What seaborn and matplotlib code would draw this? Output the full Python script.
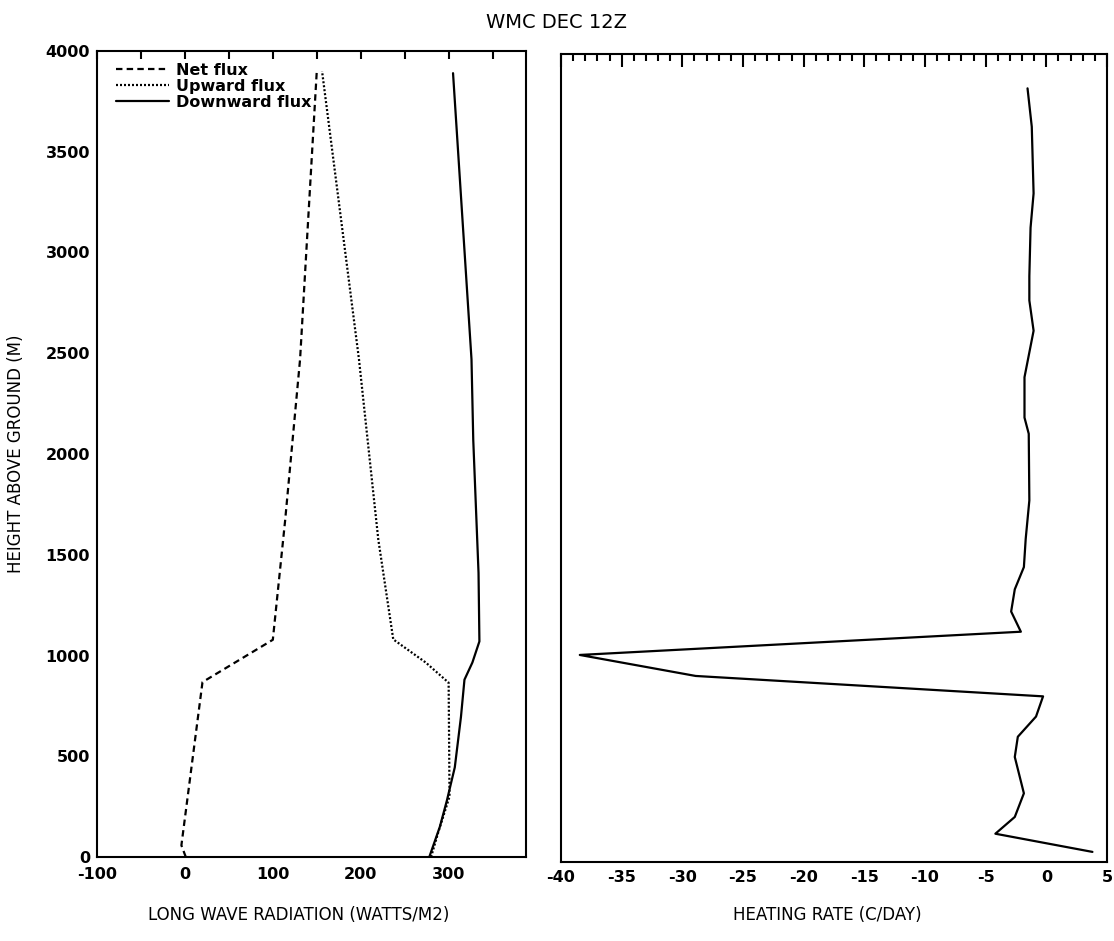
import matplotlib
matplotlib.use("Agg")
import matplotlib.pyplot as plt
import seaborn as sns
import pandas as pd
from matplotlib.ticker import MultipleLocator

# ---- data ----
net_height = [0, 58, 868, 1078, 1670, 2470, 3900]
net_flux = [1, -4, 20, 100, 114, 131, 150]

up_height = [0, 120, 300, 865, 965, 1080, 1575, 2470, 3900]
up_flux = [280, 288, 301, 300, 274, 237, 220, 198, 156]

down_height = [0, 150, 280, 445, 695, 880, 965, 1070, 1410, 2070, 2470, 3890]
down_flux = [278, 290, 298, 307, 314, 318, 327, 335, 334, 328, 326, 305]

heat_height = [50, 140, 223, 340, 520, 620, 720, 820, 921, 1025, 1140, 1240,
               1350, 1460, 1600, 1790, 2120, 2200, 2400, 2630, 2780, 2900,
               3140, 3310, 3640, 3830]
heat_rate = [3.8, -4.2, -2.6, -1.85, -2.6, -2.35, -0.85, -0.27, -28.9, -38.45,
             -2.1, -2.9, -2.6, -1.85, -1.7, -1.4, -1.45, -1.8, -1.8, -1.05,
             -1.4, -1.4, -1.3, -1.05, -1.2, -1.55]

title = "WMC DEC 12Z"
left_xlabel = "LONG WAVE RADIATION (WATTS/M2)"
right_xlabel = "HEATING RATE (C/DAY)"
ylabel = "HEIGHT ABOVE GROUND (M)"
legend_labels = ["Net flux", "Upward flux", "Downward flux"]

# ---- style ----
sns.set_style("white")
plt.rcParams["font.family"] = ["DejaVu Sans"]
plt.rcParams["axes.linewidth"] = 1.5
plt.rcParams["axes.unicode_minus"] = False
plt.rcParams["text.color"] = "black"
plt.rcParams["axes.labelcolor"] = "black"
plt.rcParams["xtick.color"] = "black"
plt.rcParams["ytick.color"] = "black"

W, H = 1114, 941
fig = plt.figure(figsize=(W / 100, H / 100), dpi=100)

def frac_axes(l, r, t, b):
    return fig.add_axes([l / W, (H - b) / H, (r - l) / W, (b - t) / H])

axL = frac_axes(97, 526, 51, 857)
axR = frac_axes(561, 1107, 54, 862)

lw = 1.6
sns.lineplot(x=net_flux, y=net_height, ax=axL, orient="y", estimator=None,
             color="black", lw=lw, linestyle=(0, (2.9, 1.9)), label=legend_labels[0])
sns.lineplot(x=up_flux, y=up_height, ax=axL, orient="y", estimator=None,
             color="black", lw=lw, linestyle=(0, (0.9, 0.9)), label=legend_labels[1])
sns.lineplot(x=down_flux, y=down_height, ax=axL, orient="y", estimator=None,
             color="black", lw=lw, linestyle="-", label=legend_labels[2])

sns.lineplot(x=heat_rate, y=heat_height, ax=axR, orient="y", estimator=None,
             color="black", lw=lw, linestyle="-")

# ---- left axes ----
axL.set_xlim(-100, 388)
axL.set_ylim(0, 4000)
axL.xaxis.set_major_locator(MultipleLocator(100))
axL.xaxis.set_minor_locator(MultipleLocator(50))
axL.yaxis.set_major_locator(MultipleLocator(500))
axL.yaxis.set_minor_locator(MultipleLocator(100))
axL.tick_params(axis="both", which="both", direction="in", top=True, right=False,
                width=1.5, color="black", labelcolor="black")
axL.tick_params(axis="x", which="both", length=6, pad=7)
axL.tick_params(axis="y", which="major", length=8, pad=5)
axL.tick_params(axis="y", which="minor", length=6)
for lab in axL.get_xticklabels() + axL.get_yticklabels():
    lab.set_fontweight("bold")
    lab.set_fontsize(11.5)
axL.set_xlabel(left_xlabel, fontsize=12, color="black")
axL.xaxis.set_label_coords(0.47, -0.061)
axL.set_ylabel(ylabel, fontsize=12, color="black")
axL.yaxis.set_label_coords(-0.168, 0.5)

leg = axL.legend(loc="upper left", bbox_to_anchor=(0.045, 0.985), frameon=False,
                 prop={"weight": "bold", "size": 11.5}, handlelength=3.3,
                 handletextpad=0.45, labelspacing=0.05, borderpad=0, borderaxespad=0)
for t in leg.get_texts():
    t.set_color("black")

# ---- right axes ----
axR.set_xlim(-40, 5)
axR.set_ylim(0, 4000)
axR.xaxis.set_major_locator(MultipleLocator(5))
axR.xaxis.set_minor_locator(MultipleLocator(1))
axR.yaxis.set_major_locator(MultipleLocator(500))
axR.yaxis.set_minor_locator(MultipleLocator(100))
axR.tick_params(axis="both", which="both", direction="in", top=True, right=False,
                width=1.5, color="black", labelcolor="black")
axR.tick_params(axis="x", which="major", length=9, pad=6)
axR.tick_params(axis="x", which="minor", length=5)
axR.tick_params(axis="y", which="both", length=5, labelleft=False)
for lab in axR.get_xticklabels():
    lab.set_fontweight("bold")
    lab.set_fontsize(11.5)
axR.set_xlabel(right_xlabel, fontsize=12, color="black")
axR.xaxis.set_label_coords(0.487, -0.054)
axR.set_ylabel("")

for ax in (axL, axR):
    for s in ax.spines.values():
        s.set_visible(True)
        s.set_color("black")
        s.set_linewidth(1.5)

fig.text(557 / W, 1 - 22 / H, title, ha="center", va="center", fontsize=14, color="black")

fig.savefig("out.png", dpi=100, facecolor="white")
